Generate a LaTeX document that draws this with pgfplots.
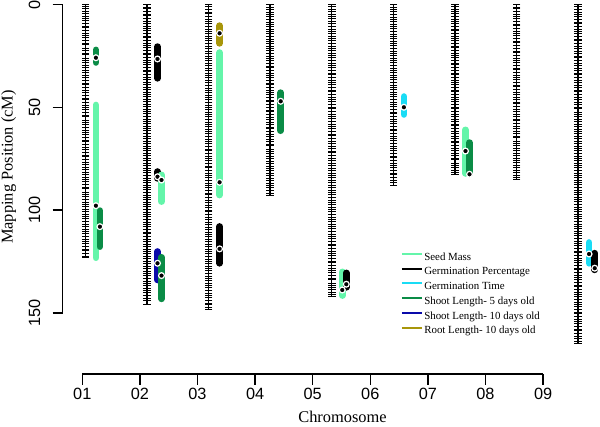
\documentclass[border=0pt]{standalone}
\usepackage{pgfplots}
\pgfplotsset{compat=1.18}
\usepackage{fontspec}
\setmainfont{Liberation Serif}
\newfontfamily\arial{Liberation Sans}
\definecolor{seedc}{RGB}{100,245,170}
\definecolor{germt}{RGB}{25,220,245}
\definecolor{shootf}{RGB}{10,140,70}
\definecolor{shoott}{RGB}{10,10,170}
\definecolor{rootc}{RGB}{168,150,10}
\pgfplotsset{
  qtl/.style={line width=6.7pt, line cap=round},
  pk/.style={only marks, mark=*, mark size=2.9pt, mark options={fill=black, draw=white, line width=1.2pt}},
  chr/.style={black, line width=1.3pt},
  mk/.style={only marks, mark=-, mark size=3.8pt, mark options={line width=0.85pt, black}},
}
\begin{document}
\begin{tikzpicture}
\path[use as bounding box] (0pt,0pt) rectangle (600pt,427pt);
\begin{axis}[
  at={(62.7pt,114pt)}, anchor=south west, scale only axis,
  width=552.36pt, height=308.3pt,
  xmin=0.6331, xmax=9.6, ymin=0, ymax=150, y dir=reverse,
  axis y line*=left, axis x line=none, clip=false,
  ytick={0,50,100,150}, yticklabels={0,50,100,150},
  tick align=outside, major tick length=10pt,
  y axis line style={line width=1.5pt, black},
  major tick style={line width=1.5pt, black},
  yticklabel style={xshift=-9pt, rotate=90, anchor=south, font=\arial\fontsize{16.3}{19}\selectfont},
]
% chromosome backbones
\addplot[chr] coordinates {(1,0) (1,123.2)};
\addplot[chr] coordinates {(2,0) (2,145.6)};
\addplot[chr] coordinates {(3,0) (3,148.2)};
\addplot[chr] coordinates {(4,0) (4,92.9)};
\addplot[chr] coordinates {(5,0) (5,142.0)};
\addplot[chr] coordinates {(6,0) (6,87.7)};
\addplot[chr] coordinates {(7,0) (7,82.8)};
\addplot[chr] coordinates {(8,0) (8,84.8)};
\addplot[chr] coordinates {(9,0) (9,165.0)};
% marker positions
\addplot[mk] table[x expr=1, y=p, row sep=\\] {p\\0\\0.8\\1.9\\3.2\\4.1\\5.6\\6.9\\7.7\\9.0\\10.4\\11.2\\12.7\\13.9\\15.1\\16.0\\17.6\\18.8\\19.5\\21.1\\22.4\\23.6\\24.3\\25.9\\27.2\\28.0\\29.5\\30.7\\31.9\\33.0\\34.6\\35.3\\36.8\\38.1\\39.0\\40.4\\41.8\\42.6\\44.0\\45.5\\46.2\\47.7\\48.9\\50.1\\51.0\\52.6\\53.8\\54.5\\56.1\\57.4\\58.2\\59.7\\61.0\\62.3\\63.1\\64.8\\65.9\\66.7\\68.2\\69.6\\70.4\\71.9\\73.1\\74.0\\75.5\\76.9\\77.6\\79.0\\80.3\\81.5\\82.4\\84.0\\85.2\\86.1\\87.5\\88.9\\89.6\\91.2\\92.4\\93.3\\94.8\\96.0\\97.1\\98.3\\99.7\\100.5\\102.0\\103.2\\104.1\\105.6\\106.9\\107.7\\109.1\\110.5\\111.3\\112.8\\114.0\\115.2\\116.1\\117.6\\118.9\\119.7\\121.0\\122.3\\123.2\\};
\addplot[mk] table[x expr=2, y=p, row sep=\\] {p\\0\\1.2\\2.0\\3.5\\4.7\\5.4\\6.9\\8.2\\9.0\\10.5\\11.7\\12.6\\14.0\\15.3\\16.1\\17.5\\18.8\\19.9\\20.7\\22.2\\23.5\\24.3\\25.8\\27.0\\28.2\\29.1\\30.6\\31.9\\32.7\\34.1\\35.4\\36.3\\37.8\\39.0\\40.1\\41.0\\42.5\\43.8\\44.6\\46.0\\47.3\\48.5\\49.4\\50.9\\52.1\\52.9\\54.4\\55.7\\56.6\\58.0\\59.3\\60.4\\61.3\\62.8\\64.0\\64.9\\66.3\\67.6\\68.8\\69.7\\71.1\\72.4\\73.3\\74.7\\76.0\\77.1\\78.0\\79.5\\80.7\\81.6\\83.0\\84.3\\85.5\\86.4\\87.8\\89.1\\90.0\\91.4\\92.7\\93.9\\94.7\\96.2\\97.4\\98.3\\99.7\\101.0\\102.2\\103.1\\104.5\\105.8\\106.7\\108.1\\109.4\\110.6\\111.4\\112.9\\114.1\\115.0\\116.4\\117.7\\118.9\\119.8\\121.2\\122.5\\123.4\\124.8\\126.1\\127.3\\128.1\\129.6\\130.8\\131.7\\133.1\\134.4\\135.6\\136.5\\137.9\\139.2\\140.1\\141.5\\142.8\\144.0\\145.6\\};
\addplot[mk] table[x expr=3, y=p, row sep=\\] {p\\0\\0.9\\2.3\\3.6\\4.4\\5.9\\7.1\\8.3\\9.2\\10.7\\11.9\\12.8\\14.2\\15.5\\16.6\\17.5\\19.0\\20.2\\21.1\\22.5\\23.8\\25.0\\25.9\\27.3\\28.6\\29.4\\30.9\\32.1\\33.3\\34.2\\35.6\\36.9\\37.8\\39.2\\40.5\\41.6\\42.5\\44.0\\45.2\\46.1\\47.5\\48.8\\50.0\\50.8\\52.3\\53.5\\54.4\\55.8\\57.1\\58.3\\59.2\\60.6\\61.9\\62.7\\64.2\\65.4\\66.6\\67.5\\68.9\\70.2\\71.1\\72.5\\73.8\\74.9\\75.8\\77.3\\78.5\\79.4\\80.8\\82.1\\83.3\\84.1\\85.6\\86.8\\87.7\\89.1\\90.4\\91.6\\92.5\\93.9\\95.2\\96.0\\97.5\\98.7\\99.9\\100.8\\102.2\\103.5\\104.4\\105.8\\107.1\\108.2\\109.1\\110.6\\111.8\\112.7\\114.1\\115.4\\116.6\\117.4\\118.9\\120.1\\121.0\\122.4\\123.7\\124.9\\125.8\\127.2\\128.5\\129.3\\130.8\\132.0\\133.2\\134.1\\135.5\\136.8\\137.7\\139.1\\140.4\\141.5\\142.4\\143.9\\145.1\\146.0\\147.2\\148.2\\};
\addplot[mk] table[x expr=4, y=p, row sep=\\] {p\\0\\1.3\\2.1\\3.6\\4.8\\5.7\\7.1\\8.4\\9.6\\10.4\\11.9\\13.1\\14.0\\15.4\\16.7\\17.9\\18.8\\20.2\\21.5\\22.3\\23.8\\25.0\\26.2\\27.1\\28.5\\29.8\\30.7\\32.1\\33.4\\34.5\\35.4\\36.9\\38.1\\39.0\\40.4\\41.7\\42.9\\43.7\\45.2\\46.4\\47.3\\48.7\\50.0\\51.2\\52.1\\53.5\\54.8\\55.6\\57.1\\58.3\\59.5\\60.4\\61.8\\63.1\\64.0\\65.4\\66.7\\67.8\\68.7\\70.2\\71.4\\72.3\\73.7\\75.0\\76.2\\77.0\\78.5\\79.7\\80.6\\82.0\\83.3\\84.5\\85.4\\86.8\\88.1\\89.0\\90.4\\91.6\\92.9\\};
\addplot[mk] table[x expr=5, y=p, row sep=\\] {p\\0\\0.7\\2.1\\3.4\\4.6\\5.5\\6.9\\8.2\\9.1\\10.5\\11.8\\12.9\\13.8\\15.3\\16.5\\17.4\\18.8\\20.1\\21.3\\22.1\\23.6\\24.8\\25.7\\27.1\\28.4\\29.6\\30.5\\31.9\\33.2\\34.0\\35.5\\36.7\\37.9\\38.8\\40.2\\41.5\\42.4\\43.8\\45.1\\46.2\\47.1\\48.6\\49.8\\50.7\\52.1\\53.4\\54.6\\55.4\\56.9\\58.1\\59.0\\60.4\\61.7\\62.9\\63.8\\65.2\\66.5\\67.3\\68.8\\70.0\\71.2\\72.1\\73.5\\74.8\\75.7\\77.1\\78.4\\79.5\\80.4\\81.9\\83.1\\84.0\\85.4\\86.7\\87.9\\88.7\\90.2\\91.4\\92.3\\93.7\\95.0\\96.2\\97.1\\98.5\\99.8\\100.6\\102.1\\103.3\\104.5\\105.4\\106.8\\108.1\\109.0\\110.4\\111.7\\112.8\\113.7\\115.2\\116.4\\117.3\\118.7\\120.0\\121.2\\122.0\\123.5\\124.7\\125.6\\127.0\\128.3\\129.5\\130.4\\131.8\\133.1\\133.9\\135.4\\136.6\\137.8\\138.7\\140.1\\141.1\\142.0\\};
\addplot[mk] table[x expr=6, y=p, row sep=\\] {p\\0\\1.1\\2.4\\3.3\\4.7\\6.0\\7.2\\8.0\\9.5\\10.7\\11.6\\13.0\\14.3\\15.5\\16.3\\17.8\\19.0\\19.9\\21.3\\22.6\\23.8\\24.6\\26.1\\27.3\\28.2\\29.6\\30.9\\32.1\\32.9\\34.4\\35.6\\36.5\\37.9\\39.2\\40.4\\41.2\\42.7\\43.9\\44.8\\46.2\\47.5\\48.7\\49.5\\51.0\\52.2\\53.1\\54.5\\55.8\\57.0\\57.8\\59.3\\60.5\\61.4\\62.8\\64.1\\65.3\\66.1\\67.6\\68.8\\69.7\\71.1\\72.4\\73.6\\74.4\\75.9\\77.1\\78.0\\79.4\\80.7\\81.9\\82.7\\84.2\\85.4\\86.3\\87.7\\};
\addplot[mk] table[x expr=7, y=p, row sep=\\] {p\\0\\0.8\\2.2\\3.5\\4.4\\5.8\\7.1\\8.3\\9.1\\10.6\\11.8\\12.7\\14.1\\15.4\\16.6\\17.4\\18.9\\20.1\\21.0\\22.4\\23.7\\24.9\\25.7\\27.2\\28.4\\29.3\\30.7\\32.0\\33.2\\34.0\\35.5\\36.7\\37.6\\39.0\\40.3\\41.5\\42.3\\43.8\\45.0\\45.9\\47.3\\48.6\\49.8\\50.6\\52.1\\53.3\\54.2\\55.6\\56.9\\58.1\\58.9\\60.4\\61.6\\62.5\\63.9\\65.2\\66.4\\67.2\\68.7\\69.9\\70.8\\72.2\\73.5\\74.7\\75.5\\77.0\\78.2\\79.1\\80.5\\81.8\\82.8\\};
\addplot[mk] table[x expr=8, y=p, row sep=\\] {p\\0\\1.2\\2.0\\3.4\\4.7\\5.9\\6.7\\8.2\\9.4\\10.3\\11.7\\13.0\\14.2\\15.0\\16.5\\17.7\\18.6\\20.0\\21.3\\22.5\\23.3\\24.8\\26.0\\26.9\\28.3\\29.6\\30.8\\31.6\\33.1\\34.3\\35.2\\36.6\\37.9\\39.1\\39.9\\41.4\\42.6\\43.5\\44.9\\46.2\\47.4\\48.2\\49.7\\50.9\\51.8\\53.2\\54.5\\55.7\\56.5\\58.0\\59.2\\60.1\\61.5\\62.8\\64.0\\64.8\\66.3\\67.5\\68.4\\69.8\\71.1\\72.3\\73.1\\74.6\\75.8\\76.7\\78.1\\79.4\\80.6\\81.4\\82.9\\84.0\\84.8\\};
\addplot[mk] table[x expr=9, y=p, row sep=\\] {p\\0\\0.9\\2.3\\3.6\\4.5\\5.9\\7.2\\8.4\\9.2\\10.7\\11.9\\12.8\\14.2\\15.5\\16.7\\17.5\\19.0\\20.2\\21.1\\22.5\\23.8\\25.0\\25.8\\27.3\\28.5\\29.4\\30.8\\32.1\\33.3\\34.1\\35.6\\36.8\\37.7\\39.1\\40.4\\41.6\\42.4\\43.9\\45.1\\46.0\\47.4\\48.7\\49.9\\50.7\\52.2\\53.4\\54.3\\55.7\\57.0\\58.2\\59.0\\60.5\\61.7\\62.6\\64.0\\65.3\\66.5\\67.3\\68.8\\70.0\\70.9\\72.3\\73.6\\74.8\\75.6\\77.1\\78.3\\79.2\\80.6\\81.9\\83.1\\83.9\\85.4\\86.6\\87.5\\88.9\\90.2\\91.4\\92.2\\93.7\\94.9\\95.8\\97.2\\98.5\\99.7\\100.5\\102.0\\103.2\\104.1\\105.5\\106.8\\108.0\\108.8\\110.3\\111.5\\112.4\\113.8\\115.1\\116.3\\117.1\\118.6\\119.8\\120.7\\122.1\\123.4\\124.6\\125.4\\126.9\\128.1\\129.0\\130.4\\131.7\\132.9\\133.7\\135.2\\136.4\\137.3\\138.7\\140.0\\141.2\\142.0\\143.5\\144.7\\145.6\\147.0\\148.3\\149.5\\150.3\\151.8\\153.0\\153.9\\155.3\\156.6\\157.8\\158.6\\160.1\\161.3\\162.2\\163.6\\165.0\\};
% QTL intervals, first column
\addplot[qtl, shootf] coordinates {(1.172,22.0) (1.172,28.1)};
\addplot[qtl, seedc] coordinates {(1.172,48.8) (1.172,123.1)};
\addplot[qtl, black] coordinates {(2.172,20.4) (2.172,35.8)};
\addplot[qtl, black] coordinates {(2.172,81.2) (2.172,84.5)};
\addplot[qtl, shoott] coordinates {(2.172,120.1) (2.172,133.9)};
\addplot[qtl, rootc] coordinates {(3.18,10.2) (3.18,18.8)};
\addplot[qtl, seedc] coordinates {(3.18,23.3) (3.18,92.6)};
\addplot[qtl, black] coordinates {(3.18,107.9) (3.18,125.8)};
\addplot[qtl, shootf] coordinates {(4.172,42.8) (4.172,61.3)};
\addplot[qtl, seedc] coordinates {(5.172,130.0) (5.172,141.5)};
\addplot[qtl, germt] coordinates {(6.172,44.7) (6.172,53.4)};
\addplot[qtl, seedc] coordinates {(7.172,60.9) (7.172,82.1)};
\addplot[qtl, germt] coordinates {(9.178,115.7) (9.178,125.8)};
% second column
\addplot[qtl, shootf] coordinates {(1.237,100.2) (1.237,117.7)};
\addplot[qtl, seedc] coordinates {(2.237,82.8) (2.237,95.8)};
\addplot[qtl, shootf] coordinates {(2.237,122.9) (2.237,143.1)};
\addplot[qtl, black] coordinates {(5.237,130.5) (5.237,137.5)};
\addplot[qtl, shootf] coordinates {(7.237,67.1) (7.237,82.1)};
\addplot[qtl, black] coordinates {(9.27,120.9) (9.27,129.0)};
% QTL peaks
\addplot[pk] coordinates {(1.172,25.8) (1.172,97.8) (1.237,108.0)
  (2.172,26.4) (2.172,83.7) (2.237,85.3) (2.172,125.8) (2.237,131.8)
  (3.18,13.9) (3.18,86.4) (3.18,118.8) (4.172,47.0)
  (5.172,138.8) (5.237,136.0) (6.172,49.9) (7.172,71.2) (7.237,82.5)
  (9.178,121.3) (9.27,128.2)};
\end{axis}
\begin{axis}[
  at={(82.3pt,53pt)}, anchor=south west, scale only axis,
  width=460.8pt, height=10pt,
  xmin=1, xmax=9, ymin=0, ymax=1,
  axis x line*=bottom, axis y line=none,
  xtick={1,2,3,4,5,6,7,8,9},
  xticklabels={01,02,03,04,05,06,07,08,09},
  tick align=outside, major tick length=10.7pt,
  x axis line style={line width=1.5pt, black},
  major tick style={line width=1.5pt, black},
  xticklabel style={font=\arial\fontsize{16.3}{19}\selectfont},
  legend image code/.code={\draw[#1] (0pt,3.5pt) -- (20pt,3.5pt);},
  legend cell align=left,
  legend style={draw=none, fill=none, inner sep=0pt, outer sep=0pt,
    at={(0.6916,12.3)}, anchor=north west, row sep=1.6pt,
    nodes={inner sep=1.3pt, text height=8pt, text depth=2.5pt, font=\fontsize{10.9}{13}\selectfont}},
]
\addlegendimage{seedc, line width=2pt}
\addlegendentry{Seed Mass}
\addlegendimage{black, line width=2pt}
\addlegendentry{Germination Percentage}
\addlegendimage{germt, line width=2pt}
\addlegendentry{Germination Time}
\addlegendimage{shootf, line width=2pt}
\addlegendentry{Shoot Length- 5 days old}
\addlegendimage{shoott, line width=2pt}
\addlegendentry{Shoot Length- 10 days old}
\addlegendimage{rootc, line width=2pt}
\addlegendentry{Root Length- 10 days old}
\end{axis}
\node[rotate=90, anchor=base, font=\fontsize{16.4}{19}\selectfont] at (12.5pt,260pt) {Mapping Position (cM)};
\node[anchor=base, font=\fontsize{16.4}{19}\selectfont] at (342.5pt,4pt) {Chromosome};
\end{tikzpicture}
\end{document}
